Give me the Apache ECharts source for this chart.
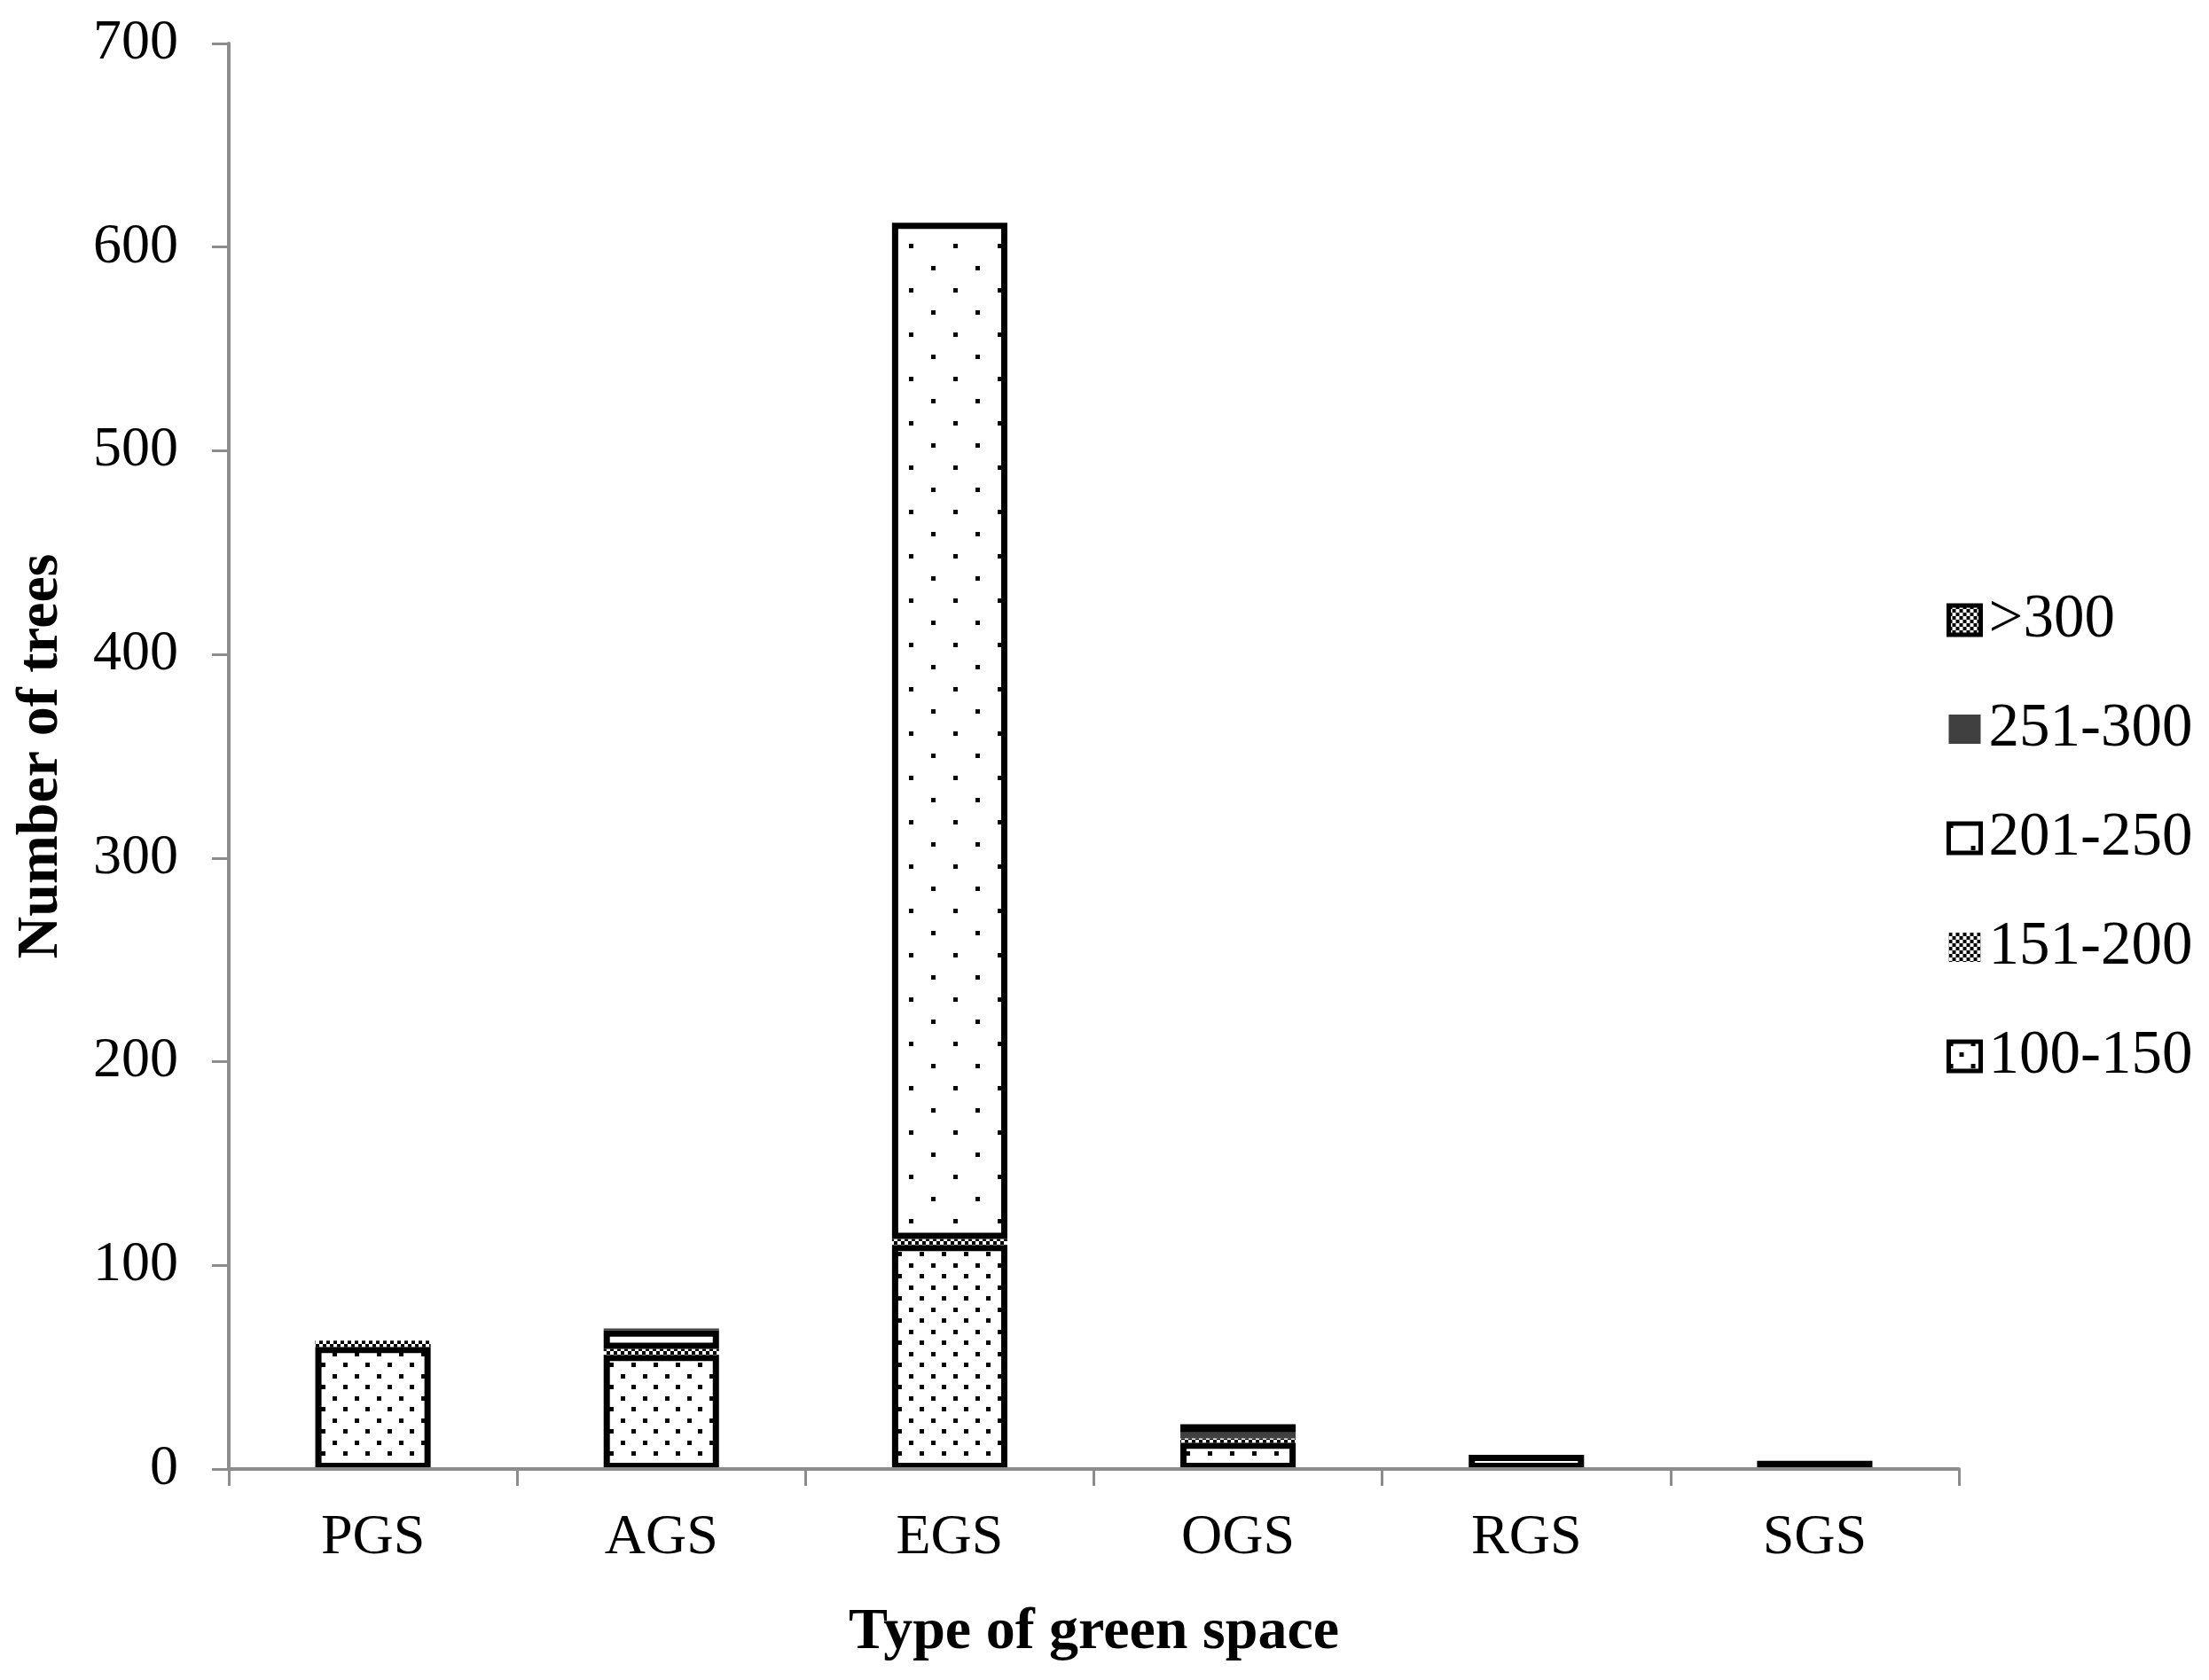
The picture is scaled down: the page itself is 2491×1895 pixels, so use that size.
<!DOCTYPE html>
<html>
<head>
<meta charset="utf-8">
<script src="https://cdn.jsdelivr.net/npm/echarts@6/dist/echarts.min.js"></script>
<style>
  html, body { margin: 0; padding: 0; background: #fff; }
  #chart { width: 2491px; height: 1895px; }
</style>
</head>
<body>
<div id="chart"></div>
<script>
// data
var categories = ['PGS', 'AGS', 'EGS', 'OGS', 'RGS', 'SGS'];
var classNames = ['100-150', '151-200', '201-250', '251-300', '>300'];
var trees100to150 = [60, 56, 110, 13, 7, 4];
var trees151to200 = [3, 3, 3, 2, 0, 0];
var trees201to250 = [0, 9, 499, 0, 0, 0];
var trees251to300 = [0, 1, 0, 3, 0, 0];
var treesOver300  = [0, 0, 0, 4, 0, 0];
var yTicks = [0, 100, 200, 300, 400, 500, 600, 700];

var FONT = "'Liberation Serif', 'Times New Roman', serif";
var AXIS_GREY = '#8c8c8c';

// pattern tiles -----------------------------
function tile(w, h, draw) {
    var c = document.createElement('canvas');
    c.width = w; c.height = h;
    var ctx = c.getContext('2d');
    ctx.fillStyle = '#fff';
    ctx.fillRect(0, 0, w, h);
    ctx.fillStyle = '#000';
    draw(ctx);
    return { image: c, repeat: 'repeat' };
}
// dense dots
var dotsDense = tile(25, 25, function (ctx) {
    ctx.fillRect(0, 0, 5, 5);
    ctx.fillRect(12, 12, 5, 5);
});
// sparse dots
var dotsSparse = tile(50, 50, function (ctx) {
    ctx.fillRect(0, 0, 5, 5);
    ctx.fillRect(25, 25, 5, 5);
});
// small checker
var checker = tile(8, 8, function (ctx) {
    ctx.fillRect(0, 0, 4, 4);
    ctx.fillRect(4, 4, 4, 4);
});

var seriesValues = [trees100to150, trees151to200, trees201to250, trees251to300, treesOver300];
var seriesFills = [dotsDense, checker, dotsSparse, '#404040', checker];
var seriesBorders = [7, 0, 7, 0, 7];

var series = [];
var legendData = [];
for (var i = 0; i < classNames.length; i++) {
    series.push({
        name: classNames[i],
        type: 'bar',
        stack: 'total',
        barWidth: '40%',
        itemStyle: {
            color: seriesFills[i],
            borderColor: '#000',
            borderWidth: seriesBorders[i]
        },
        emphasis: { disabled: true },
        // zero segments are not drawn
        data: seriesValues[i].map(function (v) { return v === 0 ? '-' : v; })
    });
    legendData.unshift({
        name: classNames[i],
        itemStyle: { borderColor: '#000', borderWidth: seriesBorders[i] ? 5 : 0 }
    });
}

var myChart = echarts.init(document.getElementById('chart'));
var option = {
    animation: false,
    backgroundColor: '#fff',
    grid: { left: 258, right: 282, top: 49, bottom: 238 },
    legend: {
        orient: 'vertical',
        left: 2190,
        top: 660,
        icon: 'rect',
        itemWidth: 36,
        itemHeight: 33,
        itemGap: 54,
        data: legendData,
        textStyle: { fontFamily: FONT, fontSize: 69, color: '#000', padding: [0, 0, 0, 4] }
    },
    xAxis: {
        type: 'category',
        data: categories,
        z: 5,
        name: 'Type of green space',
        nameLocation: 'middle',
        nameGap: 152,
        nameTextStyle: { fontFamily: FONT, fontSize: 66, fontWeight: 'bold', color: '#000' },
        axisLine: { lineStyle: { color: AXIS_GREY, width: 4 } },
        axisTick: { show: true, length: 19, lineStyle: { color: AXIS_GREY, width: 3 } },
        axisLabel: { fontFamily: FONT, fontSize: 64, color: '#000', margin: 46 },
        splitLine: { show: false }
    },
    yAxis: {
        type: 'value',
        min: yTicks[0],
        max: yTicks[yTicks.length - 1],
        interval: yTicks[1] - yTicks[0],
        name: 'Number of trees',
        nameLocation: 'middle',
        nameRotate: 90,
        nameGap: 178,
        nameTextStyle: { fontFamily: FONT, fontSize: 66, fontWeight: 'bold', color: '#000' },
        axisLine: { show: true, lineStyle: { color: AXIS_GREY, width: 4 } },
        axisTick: { show: true, length: 19, lineStyle: { color: AXIS_GREY, width: 3 } },
        axisLabel: { fontFamily: FONT, fontSize: 64, color: '#000', margin: 57 },
        splitLine: { show: false }
    },
    series: series
};
myChart.setOption(option);
</script>
</body>
</html>
